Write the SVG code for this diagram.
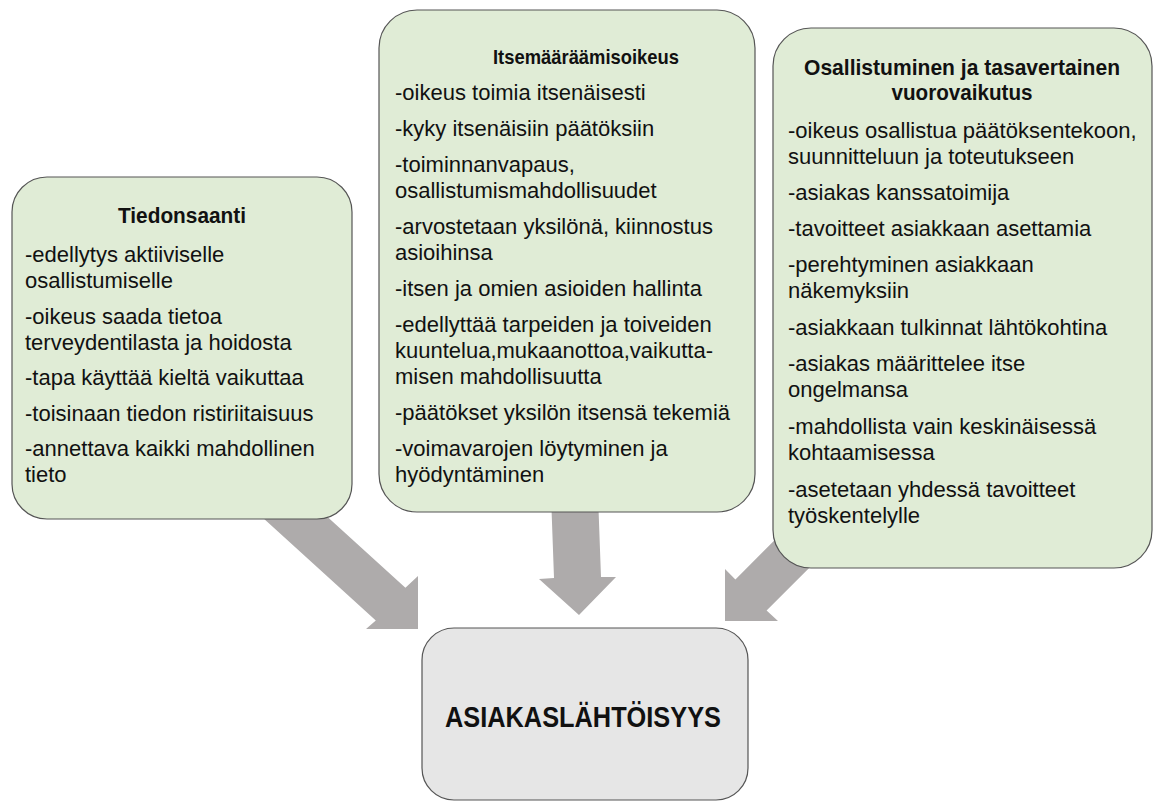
<svg xmlns="http://www.w3.org/2000/svg" width="1154" height="803" viewBox="0 0 1154 803">
<style>
.box{fill:#e0ecd6;stroke:#555555;stroke-width:1.2}
.core{fill:#e6e6e6;stroke:#555555;stroke-width:1.2}
.arrow{fill:#aeabab;stroke:none}
.t{font-family:"Liberation Sans",Arial,sans-serif;font-size:22px;fill:#111}
.h{font-family:"Liberation Sans",Arial,sans-serif;font-size:22.5px;font-weight:bold;fill:#111;text-anchor:middle}
.big{font-family:"Liberation Sans",Arial,sans-serif;font-size:29px;font-weight:bold;fill:#111;text-anchor:middle}
</style>
<rect width="1154" height="803" fill="#ffffff"/>
<g id="connectors">
<polygon class="arrow" points="279.6,473.4 405.4,587.8 418,576 418,629 366,629 375.8,620.4 250,506"/>
<polygon class="arrow" points="551,495 598,495 601,577 616,577 579,615 539,579 554,578"/>
<polygon class="arrow" points="841.4,473.4 735.4,579.4 725,569 725,621 778,621 766.6,610.6 872.6,504.6"/>
</g>
<g id="tiedonsaanti">
<rect class="box" x="12" y="177" width="340" height="342" rx="35" ry="35"/>
<text class="h" x="182" y="223" textLength="128" lengthAdjust="spacingAndGlyphs">Tiedonsaanti</text>
<text class="t" x="25" y="262">-edellytys aktiiviselle</text>
<text class="t" x="25" y="288">osallistumiselle</text>
<text class="t" x="25" y="324">-oikeus saada tietoa</text>
<text class="t" x="25" y="350">terveydentilasta ja hoidosta</text>
<text class="t" x="25" y="385">-tapa käyttää kieltä vaikuttaa</text>
<text class="t" x="25" y="421">-toisinaan tiedon ristiriitaisuus</text>
<text class="t" x="25" y="456">-annettava kaikki mahdollinen</text>
<text class="t" x="25" y="482">tieto</text>
</g>
<g id="itsemaaraamisoikeus">
<rect class="box" x="379" y="10" width="376" height="502" rx="38" ry="38"/>
<text class="h" x="586" y="64" style="font-size:20.5px" textLength="186" lengthAdjust="spacingAndGlyphs">Itsemääräämisoikeus</text>
<text class="t" x="395" y="100">-oikeus toimia itsenäisesti</text>
<text class="t" x="395" y="136">-kyky itsenäisiin päätöksiin</text>
<text class="t" x="395" y="172">-toiminnanvapaus,</text>
<text class="t" x="395" y="198">osallistumismahdollisuudet</text>
<text class="t" x="395" y="234">-arvostetaan yksilönä, kiinnostus</text>
<text class="t" x="395" y="260">asioihinsa</text>
<text class="t" x="395" y="296">-itsen ja omien asioiden hallinta</text>
<text class="t" x="395" y="332">-edellyttää tarpeiden ja toiveiden</text>
<text class="t" x="395" y="358">kuuntelua,mukaanottoa,vaikutta-</text>
<text class="t" x="395" y="384">misen mahdollisuutta</text>
<text class="t" x="395" y="420">-päätökset yksilön itsensä tekemiä</text>
<text class="t" x="395" y="456">-voimavarojen löytyminen ja</text>
<text class="t" x="395" y="482">hyödyntäminen</text>
</g>
<g id="osallistuminen">
<rect class="box" x="773" y="28" width="379" height="540" rx="38" ry="38"/>
<text class="h" x="962" y="75" textLength="316" lengthAdjust="spacingAndGlyphs">Osallistuminen ja tasavertainen</text>
<text class="h" x="962" y="100" textLength="141" lengthAdjust="spacingAndGlyphs">vuorovaikutus</text>
<text class="t" x="788" y="138">-oikeus osallistua päätöksentekoon,</text>
<text class="t" x="788" y="164">suunnitteluun ja toteutukseen</text>
<text class="t" x="788" y="200">-asiakas kanssatoimija</text>
<text class="t" x="788" y="236">-tavoitteet asiakkaan asettamia</text>
<text class="t" x="788" y="272">-perehtyminen asiakkaan</text>
<text class="t" x="788" y="298">näkemyksiin</text>
<text class="t" x="788" y="335">-asiakkaan tulkinnat lähtökohtina</text>
<text class="t" x="788" y="371">-asiakas määrittelee itse</text>
<text class="t" x="788" y="397">ongelmansa</text>
<text class="t" x="788" y="434">-mahdollista vain keskinäisessä</text>
<text class="t" x="788" y="460">kohtaamisessa</text>
<text class="t" x="788" y="497">-asetetaan yhdessä tavoitteet</text>
<text class="t" x="788" y="523">työskentelylle</text>
</g>
<g id="asiakaslahtoisyys">
<rect class="core" x="422" y="628" width="326" height="172" rx="32" ry="32"/>
<text class="big" x="583" y="727" textLength="276" lengthAdjust="spacingAndGlyphs">ASIAKASLÄHTÖISYYS</text>
</g>
</svg>
